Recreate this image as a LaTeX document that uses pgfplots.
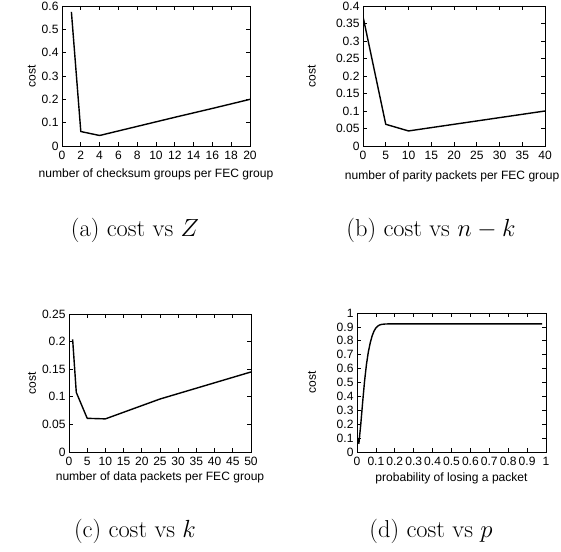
\documentclass[border=0pt]{standalone}
\usepackage{pgfplots}
\pgfplotsset{compat=1.18}
\usepackage{fontspec}
\newfontfamily\helv{Liberation Sans}
\newcommand{\gfont}{\helv\fontsize{12.1}{14}\selectfont}
\newcommand{\capfont}{\fontsize{24.5}{28}\selectfont}

\pgfplotsset{
  gp/.style={
    scale only axis,
    anchor=south west,
    axis line style={black, line width=0.9bp},
    tick align=inside,
    major tick length=4bp,
    tick style={black, line width=0.7bp},
    tick label style={font=\gfont},
    xticklabel style={yshift=-1.5bp},
    label style={font=\gfont},
    scaled ticks=false,
    cycle list={{black, mark=none}},
    every axis plot post/.append style={line width=1.4bp, line join=round},
  },
}

\begin{document}
\begin{tikzpicture}
\useasboundingbox (0,0) rectangle (561bp,552bp);

% (a) cost vs Z
\begin{axis}[gp,
  at={(62bp,406bp)}, width=188bp, height=140bp,
  xmin=0, xmax=20, ymin=0, ymax=0.6,
  xtick={0,2,...,20},
  xticklabels={0,2,4,6,8,10,12,14,16,18,20},
  ytick={0,0.1,0.2,0.3,0.4,0.5,0.6},
  yticklabels={0,0.1,0.2,0.3,0.4,0.5,0.6},
  xlabel={number of checksum groups per FEC group},
  ylabel={cost},
  xlabel style={at={(axis description cs:0.5,-0.202)}, anchor=center},
  ylabel style={at={(axis description cs:-0.161,0.5)}, anchor=center},
]
\addplot coordinates {(1,0.575)(2,0.062)(4,0.045)(8,0.084)(12,0.123)(16,0.161)(20,0.2)};
\end{axis}

% (b) cost vs n-k
\begin{axis}[gp,
  at={(363bp,406bp)}, width=182bp, height=140bp,
  xmin=0, xmax=40, ymin=0, ymax=0.4,
  xtick={0,5,...,40},
  xticklabels={0,5,10,15,20,25,30,35,40},
  ytick={0,0.05,0.1,0.15,0.2,0.25,0.3,0.35,0.4},
  yticklabels={0,0.05,0.1,0.15,0.2,0.25,0.3,0.35,0.4},
  xlabel={number of parity packets per FEC group},
  ylabel={cost},
  xlabel style={at={(axis description cs:0.49,-0.214)}, anchor=center},
  ylabel style={at={(axis description cs:-0.282,0.5)}, anchor=center},
]
\addplot coordinates {(0,0.37)(5,0.062)(10,0.043)(20,0.062)(30,0.081)(40,0.1)};
\end{axis}

% (c) cost vs k
\begin{axis}[gp,
  at={(69bp,100bp)}, width=182bp, height=138bp,
  xmin=0, xmax=50, ymin=0, ymax=0.25,
  xtick={0,5,...,50},
  xticklabels={0,5,10,15,20,25,30,35,40,45,50},
  ytick={0,0.05,0.1,0.15,0.2,0.25},
  yticklabels={0,0.05,0.1,0.15,0.2,0.25},
  xlabel={number of data packets per FEC group},
  ylabel={cost},
  xlabel style={at={(axis description cs:0.5,-0.187)}, anchor=center},
  ylabel style={at={(axis description cs:-0.203,0.5)}, anchor=center},
]
\addplot coordinates {(1,0.204)(2,0.108)(5,0.061)(10,0.06)(25,0.096)(50,0.145)};
\end{axis}

% (d) cost vs p
\begin{axis}[gp,
  at={(357bp,100bp)}, width=189bp, height=139bp,
  xmin=0, xmax=1, ymin=0, ymax=1,
  xtick={0,0.1,0.2,0.3,0.4,0.5,0.6,0.7,0.8,0.9,1},
  xticklabels={0,0.1,0.2,0.3,0.4,0.5,0.6,0.7,0.8,0.9,1},
  ytick={0,0.1,0.2,0.3,0.4,0.5,0.6,0.7,0.8,0.9,1},
  yticklabels={0,0.1,0.2,0.3,0.4,0.5,0.6,0.7,0.8,0.9,1},
  xlabel={probability of losing a packet},
  ylabel={cost},
  xlabel style={at={(axis description cs:0.5,-0.19)}, anchor=center},
  ylabel style={at={(axis description cs:-0.238,0.5)}, anchor=center},
]
\addplot coordinates {(0.002,0.10)(0.01,0.062)(0.02,0.20)(0.03,0.36)(0.04,0.51)
  (0.05,0.63)(0.06,0.72)(0.07,0.785)(0.08,0.835)(0.09,0.87)(0.10,0.893)
  (0.11,0.906)(0.12,0.914)(0.13,0.918)(0.15,0.921)(0.2,0.922)(0.98,0.922)};
\end{axis}

% captions
\node[anchor=base, font=\capfont] at (135bp,315.3bp) {(a) cost vs $Z$};
\node[anchor=base, font=\capfont] at (431bp,315.3bp) {(b) cost vs $n-k$};
\node[anchor=base, font=\capfont] at (135bp,14.7bp) {(c) cost vs $k$};
\node[anchor=base, font=\capfont] at (431bp,14.7bp) {(d) cost vs $p$};
\end{tikzpicture}
\end{document}
